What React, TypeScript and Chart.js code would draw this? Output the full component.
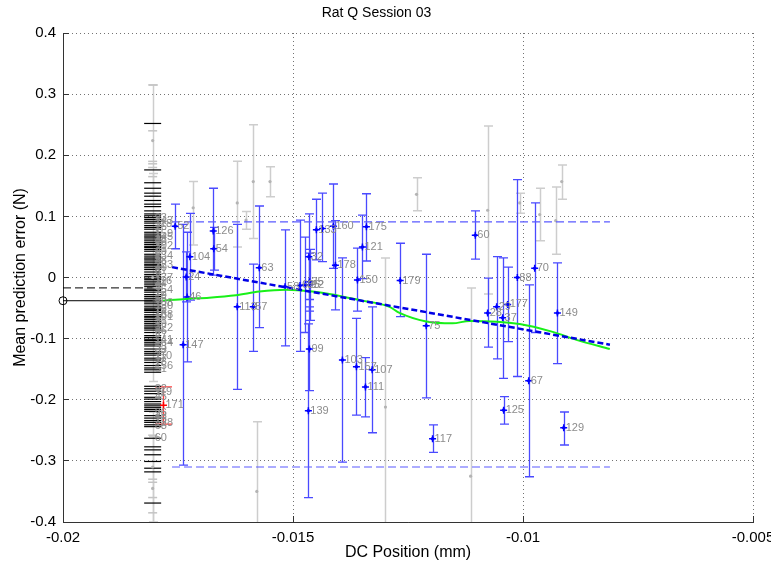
import React, { useEffect, useRef } from 'react';
import { Chart, registerables } from 'chart.js';

Chart.register(...registerables);

const FONT = "'Liberation Sans', Arial, Helvetica, sans-serif";

const titleText = 'Rat Q Session 03';
const xAxisTitle = 'DC Position (mm)';
const yAxisTitle = 'Mean prediction error (N)';

const xTickValues = [-0.02, -0.015, -0.01, -0.005];
const xTickLabels = ['-0.02', '-0.015', '-0.01', '-0.005'];
const yTickValues = [-0.4, -0.3, -0.2, -0.1, 0, 0.1, 0.2, 0.3, 0.4];
const yTickLabels = ['-0.4', '-0.3', '-0.2', '-0.1', '0', '0.1', '0.2', '0.3', '0.4'];

// Blue trials (mean, lower, upper, label)
const blueX = [-0.017562, -0.017388, -0.017322, -0.0173, -0.017242, -0.016734, -0.016723, -0.016212, -0.015864, -0.015733, -0.015173, -0.014847, -0.014732, -0.014655, -0.014644, -0.014633, -0.014644, -0.014666, -0.014492, -0.014361, -0.014122, -0.014078, -0.013926, -0.013621, -0.013599, -0.013491, -0.013404, -0.013425, -0.013279, -0.01267, -0.012104, -0.011966, -0.011037, -0.010769, -0.010573, -0.010443, -0.010334, -0.010421, -0.010123, -0.009876, -0.009746, -0.009252, -0.009115];
const blueY = [0.084, -0.11, 0.001, -0.032, 0.034, 0.076, 0.047, -0.048, -0.048, 0.016, -0.015, -0.013, -0.012, 0.034, -0.007, -0.012, -0.117, -0.218, 0.078, 0.08, 0.084, 0.02, -0.135, -0.146, -0.004, 0.05, 0.083, -0.179, -0.151, -0.005, -0.079, -0.264, 0.069, -0.058, -0.048, -0.066, -0.044, -0.217, 0.0, -0.169, 0.015, -0.058, -0.246];
const blueLo = [0.047, -0.307, -0.04, -0.138, -0.037, 0.004, 0.012, -0.183, -0.121, -0.082, -0.112, -0.121, -0.09, -0.036, -0.055, -0.07, -0.185, -0.36, 0.029, 0.026, 0.015, -0.053, -0.302, -0.225, -0.055, -0.002, 0.027, -0.228, -0.254, -0.064, -0.197, -0.286, 0.03, -0.114, -0.133, -0.165, -0.105, -0.24, -0.162, -0.326, -0.09, -0.141, -0.274];
const blueHi = [0.12, 0.087, 0.042, 0.074, 0.105, 0.146, 0.082, 0.087, 0.022, 0.117, 0.078, 0.094, 0.066, 0.104, 0.04, 0.046, -0.048, -0.076, 0.128, 0.138, 0.153, 0.093, 0.032, -0.067, 0.048, 0.102, 0.137, -0.131, -0.048, 0.056, 0.038, -0.241, 0.109, -0.001, 0.034, 0.032, 0.017, -0.195, 0.16, -0.012, 0.122, 0.024, -0.22];
const blueLabels = ['52', '147', '24', '46', '104', '126', '54', '113', '57', '63', '58', '62', '85', '32', '35', '12', '99', '139', '133', '', '160', '178', '103', '157', '150', '121', '175', '111', '107', '179', '75', '117', '60', '28', '29', '37', '177', '125', '88', '67', '70', '149', '129'];

// Gray (excluded) trials
const grayX = [-0.01717, -0.016212, -0.016022, -0.015864, -0.015787, -0.0155, -0.01299, -0.012315, -0.011139, -0.010769, -0.010073, -0.009637, -0.009289, -0.009158];
const grayY = [0.114, 0.122, 0.094, 0.157, -0.35, 0.157, -0.212, 0.136, -0.325, 0.11, 0.122, 0.103, 0.093, 0.157];
const grayLo = [0.053, 0.05, 0.079, 0.064, -0.464, 0.132, -0.456, 0.109, -0.633, -0.027, 0.105, 0.06, 0.038, 0.128];
const grayHi = [0.157, 0.19, 0.108, 0.25, -0.236, 0.181, 0.032, 0.163, -0.017, 0.248, 0.138, 0.146, 0.148, 0.184];

// Red trial
const redX = [-0.017816];
const redY = [-0.209];
const redLo = [-0.24];
const redHi = [-0.179];
const redLabels = ['171'];

// Cluster of trials at the starting position
const clusterX = -0.018051;
const clusterGrayY = [0.224, 0.0, -0.31, -0.345];
const clusterGrayLo = [0.133, -0.17, -0.4, -0.43];
const clusterGrayHi = [0.315, 0.17, -0.22, -0.26];
const clusterBlackCaps = [0.252, 0.176, 0.155, 0.146, 0.138, 0.133, 0.126, 0.12, 0.116, 0.109, 0.104, 0.101, 0.098, 0.095, 0.092, 0.089, 0.085, 0.082, 0.079, 0.074, 0.071, 0.068, 0.066, 0.063, 0.06, 0.057, 0.054, 0.051, 0.049, 0.046, 0.043, 0.038, 0.035, 0.032, 0.03, 0.027, 0.024, 0.021, 0.019, 0.016, 0.013, 0.009, 0.005, 0.002, -0.001, -0.003, -0.006, -0.009, -0.012, -0.015, -0.019, -0.021, -0.024, -0.028, -0.031, -0.034, -0.037, -0.04, -0.043, -0.047, -0.05, -0.052, -0.054, -0.057, -0.061, -0.064, -0.066, -0.069, -0.072, -0.075, -0.078, -0.081, -0.083, -0.086, -0.09, -0.095, -0.098, -0.101, -0.103, -0.106, -0.109, -0.112, -0.117, -0.121, -0.124, -0.127, -0.132, -0.135, -0.139, -0.144, -0.148, -0.151, -0.155, -0.178, -0.182, -0.186, -0.19, -0.196, -0.199, -0.203, -0.207, -0.21, -0.213, -0.216, -0.219, -0.226, -0.23, -0.234, -0.237, -0.241, -0.244, -0.263, -0.277, -0.282, -0.29, -0.301, -0.312, -0.318, -0.369];
const clusterGrayCaps = [0.315, 0.24, 0.19, 0.186, 0.18, 0.165, -0.258, -0.33, -0.335, -0.36, -0.385];
const clusterLabelY = [0.098, 0.093, 0.088, 0.082, 0.077, 0.071, 0.066, 0.062, 0.058, 0.052, 0.047, 0.041, 0.036, 0.031, 0.027, 0.021, 0.016, 0.011, 0.005, 0.0, -0.006, -0.011, -0.016, -0.021, -0.026, -0.031, -0.035, -0.041, -0.046, -0.052, -0.057, -0.061, -0.065, -0.071, -0.076, -0.082, -0.087, -0.091, -0.096, -0.102, -0.107, -0.113, -0.118, -0.124, -0.129, -0.134, -0.138, -0.144, -0.149, -0.182, -0.188, -0.195, -0.222, -0.227, -0.231, -0.238, -0.243, -0.262];
const clusterLabelText = ['93', '143', '118', '26', '7', '159', '145', '38', '66', '102', '21', '89', '134', '5', '88', '123', '40', '61', '9', '137', '116', '44', '3', '154', '72', '19', '55', '108', '130', '76', '14', '168', '101', '31', '49', '122', '86', '2', '27', '141', '164', '53', '33', '97', '110', '17', '78', '156', '51', '82', '119', '45', '96', '43', '15', '128', '68', '60'];

// Smoothed mean (green)
const smoothX = [-0.017838, -0.017329, -0.016821, -0.01624, -0.015733, -0.015152, -0.014579, -0.014209, -0.013556, -0.012903, -0.012685, -0.012104, -0.011531, -0.011161, -0.010073, -0.009354, -0.008838, -0.008113];
const smoothY = [-0.038, -0.035, -0.033, -0.029, -0.023, -0.02, -0.023, -0.027, -0.037, -0.048, -0.058, -0.072, -0.075, -0.071, -0.076, -0.089, -0.102, -0.117];

// Linear fit and bounds
const fitX = [-0.01763, -0.00811];
const fitY = [0.017, -0.11];
const boundX = [-0.01763, -0.00811];
const upperBoundY = [0.091, 0.091];
const lowerBoundY = [-0.31, -0.31];

// Reference lines from the left axis
const refX = [-0.02, clusterX];
const refSolidY = [-0.038, -0.038];
const refDashedY = [-0.017, -0.017];

const pts = (xs: number[], ys: number[]) => xs.map((v, i) => ({ x: v, y: ys[i] }));

const errorBarPlugin = {
  id: 'errorBars',
  beforeDatasetsDraw(chart: any) {
    const { ctx, chartArea: a, scales } = chart;
    const sx = scales.x;
    const sy = scales.y;
    ctx.save();
    ctx.beginPath();
    ctx.rect(a.left, a.top, a.right - a.left, a.bottom - a.top);
    ctx.clip();
    const draw = (xs: number[], lo: number[], hi: number[], color: string, cap: number, w: number) => {
      ctx.strokeStyle = color;
      ctx.lineWidth = w;
      for (let i = 0; i < xs.length; i++) {
        const px = Math.round(sx.getPixelForValue(xs[i])) + 0.5;
        const p1 = sy.getPixelForValue(lo[i]);
        const p2 = sy.getPixelForValue(hi[i]);
        ctx.beginPath();
        ctx.moveTo(px, p1);
        ctx.lineTo(px, p2);
        ctx.moveTo(px - cap, p1);
        ctx.lineTo(px + cap, p1);
        ctx.moveTo(px - cap, p2);
        ctx.lineTo(px + cap, p2);
        ctx.stroke();
      }
    };
    draw(grayX, grayLo, grayHi, '#cdcdcd', 4.5, 1.5);
    draw(clusterGrayY.map(() => clusterX), clusterGrayLo, clusterGrayHi, '#cdcdcd', 4.5, 1.5);
    draw(blueX, blueLo, blueHi, '#4a4aff', 4.5, 1.3);
    draw(redX, redLo, redHi, '#ff4040', 8.5, 1.3);
    ctx.restore();
  },
};

const labelPlugin = {
  id: 'pointLabels',
  afterDatasetsDraw(chart: any) {
    const { ctx, scales } = chart;
    const sx = scales.x;
    const sy = scales.y;
    ctx.save();
    ctx.font = `11px ${FONT}`;
    ctx.fillStyle = '#8c8c8c';
    ctx.textAlign = 'left';
    ctx.textBaseline = 'middle';
    blueLabels.forEach((t, i) => {
      if (t) ctx.fillText(t, sx.getPixelForValue(blueX[i]) + 2, sy.getPixelForValue(blueY[i]));
    });
    redLabels.forEach((t, i) => ctx.fillText(t, sx.getPixelForValue(redX[i]) + 2, sy.getPixelForValue(redY[i])));
    clusterLabelText.forEach((t, i) => ctx.fillText(t, sx.getPixelForValue(clusterX) + 2, sy.getPixelForValue(clusterLabelY[i])));
    ctx.restore();
  },
};

const innerTicksPlugin = {
  id: 'innerTicks',
  afterDraw(chart: any) {
    const { ctx, chartArea: a, scales } = chart;
    ctx.save();
    ctx.strokeStyle = '#333';
    ctx.lineWidth = 1;
    ctx.beginPath();
    xTickValues.forEach((v) => {
      const px = Math.round(scales.x.getPixelForValue(v) - 0.5) + 0.5;
      ctx.moveTo(px, a.bottom);
      ctx.lineTo(px, a.bottom - 6);
    });
    yTickValues.forEach((v) => {
      const py = Math.round(scales.y.getPixelForValue(v) - 0.5) + 0.5;
      ctx.moveTo(a.left, py);
      ctx.lineTo(a.left + 6, py);
    });
    ctx.stroke();
    ctx.restore();
  },
};

export default function App() {
  const ref = useRef<HTMLCanvasElement | null>(null);

  useEffect(() => {
    if (!ref.current) return;
    const lineBase = { showLine: true, pointRadius: 0, fill: false };
    const chart = new Chart(ref.current, {
      type: 'scatter',
      data: {
        datasets: [
          { ...lineBase, label: 'fit', data: pts(fitX, fitY), borderColor: '#0000e6', borderWidth: 2.5, borderDash: [6, 3], order: 0 },
          { ...lineBase, label: 'smooth', data: pts(smoothX, smoothY), borderColor: '#18f018', borderWidth: 2, cubicInterpolationMode: 'monotone', order: 1 },
          { ...lineBase, label: 'upper', data: pts(boundX, upperBoundY), borderColor: '#5a5aff', borderWidth: 1.2, borderDash: [8, 4], order: 2 },
          { ...lineBase, label: 'lower', data: pts(boundX, lowerBoundY), borderColor: '#5a5aff', borderWidth: 1.2, borderDash: [8, 4], order: 2 },
          { ...lineBase, label: 'refSolid', data: pts(refX, refSolidY), borderColor: '#000', borderWidth: 1, pointRadius: [4, 0], pointBorderColor: '#000', pointBackgroundColor: 'rgba(0,0,0,0)', pointBorderWidth: 1, clip: false, order: 2 },
          { ...lineBase, label: 'refDashed', data: pts(refX, refDashedY), borderColor: '#000', borderWidth: 1, borderDash: [8, 4], order: 2 },
          { label: 'blueCross', data: pts(blueX, blueY), pointStyle: 'cross', pointRadius: 3.5, pointBorderColor: '#0000ff', pointBorderWidth: 1.5, order: 3 },
          { label: 'blueDot', data: pts(blueX, blueY), pointStyle: 'circle', pointRadius: 1.8, pointBackgroundColor: '#0000ff', pointBorderWidth: 0, order: 3 },
          { label: 'red', data: pts(redX, redY), pointStyle: 'cross', pointRadius: 3.5, pointBorderColor: '#ff0000', pointBorderWidth: 1.5, order: 3 },
          { label: 'grayDot', data: [...pts(grayX, grayY), ...clusterGrayY.map((v) => ({ x: clusterX, y: v }))], pointStyle: 'circle', pointRadius: 1.6, pointBackgroundColor: '#b4b4b4', pointBorderWidth: 0, order: 4 },
          { label: 'blackCaps', data: clusterBlackCaps.map((v) => ({ x: clusterX, y: v })), pointStyle: 'line', pointRadius: 8.5, pointBorderColor: '#000', pointBorderWidth: 1.2, order: 5 },
          { label: 'grayCaps', data: clusterGrayCaps.map((v) => ({ x: clusterX, y: v })), pointStyle: 'line', pointRadius: 4.5, pointBorderColor: '#c4c4c4', pointBorderWidth: 1.5, order: 6 },
        ] as any,
      },
      options: {
        responsive: false,
        animation: false,
        events: [],
        layout: { padding: { left: 0, right: 18, top: 0, bottom: 0 } },
        plugins: {
          legend: { display: false },
          tooltip: { enabled: false },
          title: {
            display: true,
            text: titleText,
            color: '#000',
            font: { size: 14, weight: 'normal', family: FONT },
            padding: { top: 5, bottom: 11.2 },
          },
        },
        scales: {
          x: {
            type: 'linear',
            position: 'bottom',
            min: -0.02,
            max: -0.005,
            afterBuildTicks: (s: any) => {
              s.ticks = xTickValues.map((v) => ({ value: v }));
            },
            afterFit: (s: any) => {
              s.height = 43;
              s.paddingLeft = 0;
              s.paddingRight = 0;
            },
            ticks: {
              callback: (_v: any, i: number) => xTickLabels[i],
              color: '#000',
              font: { size: 15, family: FONT },
              padding: 7,
              maxRotation: 0,
              autoSkip: false,
            },
            grid: { color: 'rgba(0,0,0,0.55)', lineWidth: 1, drawTicks: false },
            border: { display: true, color: '#333', width: 1, dash: [1, 3] },
            title: { display: true, text: xAxisTitle, color: '#000', font: { size: 16, family: FONT }, padding: { top: 0, bottom: 3 } },
          },
          y: {
            type: 'linear',
            position: 'left',
            min: -0.4,
            max: 0.4,
            afterBuildTicks: (s: any) => {
              s.ticks = yTickValues.map((v) => ({ value: v }));
            },
            afterFit: (s: any) => {
              s.width = 63;
              s.paddingTop = 0;
              s.paddingBottom = 0;
            },
            ticks: {
              callback: (_v: any, i: number) => yTickLabels[i],
              color: '#000',
              font: { size: 15, family: FONT },
              padding: 7,
              autoSkip: false,
            },
            grid: { color: 'rgba(0,0,0,0.55)', lineWidth: 1, drawTicks: false },
            border: { display: true, color: '#333', width: 1, dash: [1, 3] },
            title: { display: true, text: yAxisTitle, color: '#000', font: { size: 16, family: FONT }, padding: { top: 11, bottom: 0 } },
          },
        },
      } as any,
      plugins: [errorBarPlugin, labelPlugin, innerTicksPlugin],
    });
    return () => chart.destroy();
  }, []);

  return (
    <div style={{ position: 'fixed', left: 0, top: 0, width: 771, height: 565, background: '#fff' }}>
      <canvas ref={ref} width={771} height={565} style={{ display: 'block' }} />
    </div>
  );
}
